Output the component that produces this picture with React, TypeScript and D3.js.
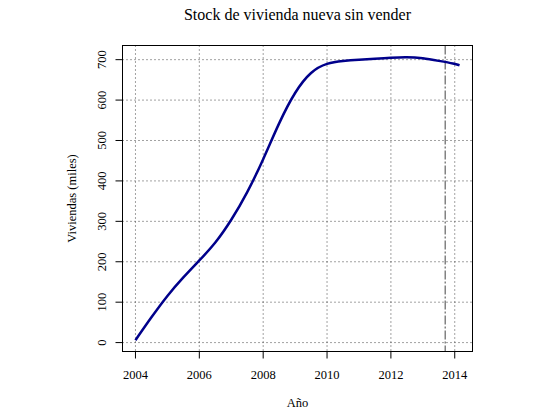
import React from "react";
import * as d3 from "d3";

// stock de vivienda nueva sin vender (miles)
const years = [
  2004, 2004.5, 2005, 2005.5, 2006, 2006.5, 2007, 2007.5, 2008, 2008.5, 2009,
  2009.5, 2010, 2010.5, 2011, 2011.5, 2012, 2012.5, 2013, 2013.5, 2014, 2014.15,
];
const viviendas = [
  6, 63, 117, 162, 203, 245, 302, 370, 452, 545, 622, 672, 692, 697, 700, 702,
  705, 707, 704, 697, 690, 686,
];
const xTicks = [2004, 2006, 2008, 2010, 2012, 2014];
const yTicks = [0, 100, 200, 300, 400, 500, 600, 700];
const marker = 2013.7;

const title = "Stock de vivienda nueva sin vender";
const xLabel = "Año";
const yLabel = "Viviendas (miles)";

const W = 553;
const H = 413;
const margin = { top: 45.5, right: 80.5, bottom: 61.5, left: 122.5 };
const font = "'Liberation Serif', 'DejaVu Serif', serif";

// R-style 4% padding
const pad = (lo: number, hi: number) => {
  const d = (hi - lo) * 0.04;
  return [lo - d, hi + d];
};

export default function App() {
  const data = years.map((y, i) => ({ x: y, y: viviendas[i] }));
  const [x0, x1] = d3.extent(years) as [number, number];
  const [y0, y1] = d3.extent(viviendas) as [number, number];

  const x = d3
    .scaleLinear()
    .domain(pad(x0, x1))
    .range([margin.left, W - margin.right]);
  const y = d3
    .scaleLinear()
    .domain(pad(y0, y1))
    .range([H - margin.bottom, margin.top]);

  const line = d3
    .line<{ x: number; y: number }>()
    .x((d) => x(d.x))
    .y((d) => y(d.y))
    .curve(d3.curveBasis);

  const left = margin.left;
  const right = W - margin.right;
  const top = margin.top;
  const bottom = H - margin.bottom;
  const cx = (left + right) / 2;
  const cy = (top + bottom) / 2;

  return (
    <svg
      width={W}
      height={H}
      style={{ position: "absolute", left: 0, top: 0, background: "#fff" }}
    >
      {/* grid */}
      <g stroke="#444" strokeWidth={1} strokeDasharray="1,3">
        {xTicks.map((t) => (
          <line key={"gx" + t} x1={x(t)} x2={x(t)} y1={top} y2={bottom} />
        ))}
        {yTicks.map((t) => (
          <line key={"gy" + t} x1={left} x2={right} y1={y(t)} y2={y(t)} />
        ))}
      </g>

      {/* marca vertical */}
      <line
        x1={x(marker)}
        x2={x(marker)}
        y1={top}
        y2={bottom}
        stroke="#444"
        strokeWidth={1}
        strokeDasharray="9,2,2,2"
      />

      <path
        d={line(data) ?? ""}
        fill="none"
        stroke="#00008b"
        strokeWidth={2.5}
      />

      <rect
        x={left}
        y={top}
        width={right - left}
        height={bottom - top}
        fill="none"
        stroke="#000"
      />

      {/* ejes */}
      <g stroke="#000">
        {xTicks.map((t) => (
          <line key={"tx" + t} x1={x(t)} x2={x(t)} y1={bottom} y2={bottom + 7} />
        ))}
        {yTicks.map((t) => (
          <line key={"ty" + t} x1={left - 7} x2={left} y1={y(t)} y2={y(t)} />
        ))}
      </g>
      <g fontFamily={font} fontSize={12.5} fill="#000">
        {xTicks.map((t) => (
          <text key={"lx" + t} x={x(t)} y={bottom + 27} textAnchor="middle">
            {t}
          </text>
        ))}
        {yTicks.map((t) => (
          <text
            key={"ly" + t}
            transform={`translate(${left - 17},${y(t)}) rotate(-90)`}
            textAnchor="middle"
          >
            {t}
          </text>
        ))}
        <text x={cx} y={407} textAnchor="middle">
          {xLabel}
        </text>
        <text
          transform={`translate(76,${cy}) rotate(-90)`}
          textAnchor="middle"
        >
          {yLabel}
        </text>
      </g>
      <text
        x={cx}
        y={20}
        textAnchor="middle"
        fontFamily={font}
        fontSize={16}
        fill="#000"
      >
        {title}
      </text>
    </svg>
  );
}
